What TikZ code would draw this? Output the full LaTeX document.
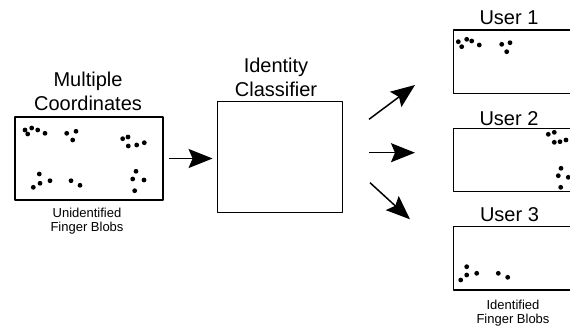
\documentclass[tikz,border=0pt]{standalone}
\usepackage{fontspec}
\setmainfont{Liberation Sans}
\usetikzlibrary{arrows.meta}

\begin{document}
\begin{tikzpicture}[x=1pt, y=-1pt, line join=round, >={Stealth[length=24pt,width=19pt,inset=4pt]}]
			\tikzset{box/.style={draw, line width=1.4pt, inner sep=0pt},
				title/.style={font=\fontsize{20}{24}\selectfont, align=center},
				note/.style={font=\fontsize{13}{14}\selectfont, align=center},
				arr/.style={->, line width=1.5pt}}
			\useasboundingbox (0,0) rectangle (570,330);
			\clip (0,0) rectangle (570,330);
			% input blobs
			\node[box, minimum width=148pt, minimum height=83pt] (multi) at (89,158.5) {};
			\node[title] (multit) at (88,91) {Multiple\\Coordinates};
			\node[note] (unid) at (87,221.3) {Unidentified\\Finger Blobs};
			\foreach \p in {(25,130),(27.7,134),(31.7,128),(37.7,130),(45,133.3),(66.7,133.3),(76,131.3),(72.7,140),(122.7,138.7),(128,137),(128.3,146),(136.7,145),(144.3,142.7),(39.3,174),(40,183.3),(50,180.7),(33.3,187.3),(71,180.7),(80,185.3),(136,171.3),(132.7,179),(144,180),(134.7,190.7)}{\fill \p circle(2.4pt);}
			% classifier
			\node[box, minimum width=125.4pt, minimum height=111pt] (ident) at (280,157.2) {};
			\node[title] (identt) at (276,77) {Identity\\Classifier};
			\draw[arr, shorten <=5pt, shorten >=4pt] (multi.east) -- (multi.east -| ident.west);
			% users
			\node[box, minimum width=140pt, minimum height=63.3pt] (user1) at (523.3,61.7) {};
			\node[box, minimum width=140pt, minimum height=63.3pt] (user2) at (523.3,160) {};
			\node[box, minimum width=140pt, minimum height=63.3pt] (user3) at (523.3,258.3) {};
			\node[title] (user1t) at (509,18) {User 1};
			\node[title] (user2t) at (509,118.5) {User 2};
			\node[title] (user3t) at (509.5,214.5) {User 3};
			\node[note] (iden) at (513,313) {Identified\\Finger Blobs};
			\foreach \p in {(458.3,41.7),(461.7,46.7),(466.7,39.3),(471.7,41),(479.3,45),(501.7,44.3),(510,42.7),(506.7,51.7)}{\fill \p circle(2.4pt);}
			\foreach \p in {(548.3,134.3),(554.3,132.3),(554.3,142.3),(560,141.7),(566,140),(561,168.3),(558.3,175.7),(568.3,177.3),(560.7,187.3)}{\fill \p circle(2.4pt);}
			\foreach \p in {(466.7,266.7),(466.7,275),(460.7,280),(476.7,273.3),(498.3,273.3),(507.7,277.3)}{\fill \p circle(2.4pt);}
			% outputs
			\coordinate (a1s) at (369,119.3); \coordinate (a1e) at (415,85);
			\coordinate (a2s) at (369,152.7); \coordinate (a2e) at (415,152.7);
			\coordinate (a3s) at (370,182.7); \coordinate (a3e) at (410,219.3);
			\draw[arr] (a1s) -- (a1e);
			\draw[arr] (a2s) -- (a2e);
			\draw[arr] (a3s) -- (a3e);
		\end{tikzpicture}
\end{document}
